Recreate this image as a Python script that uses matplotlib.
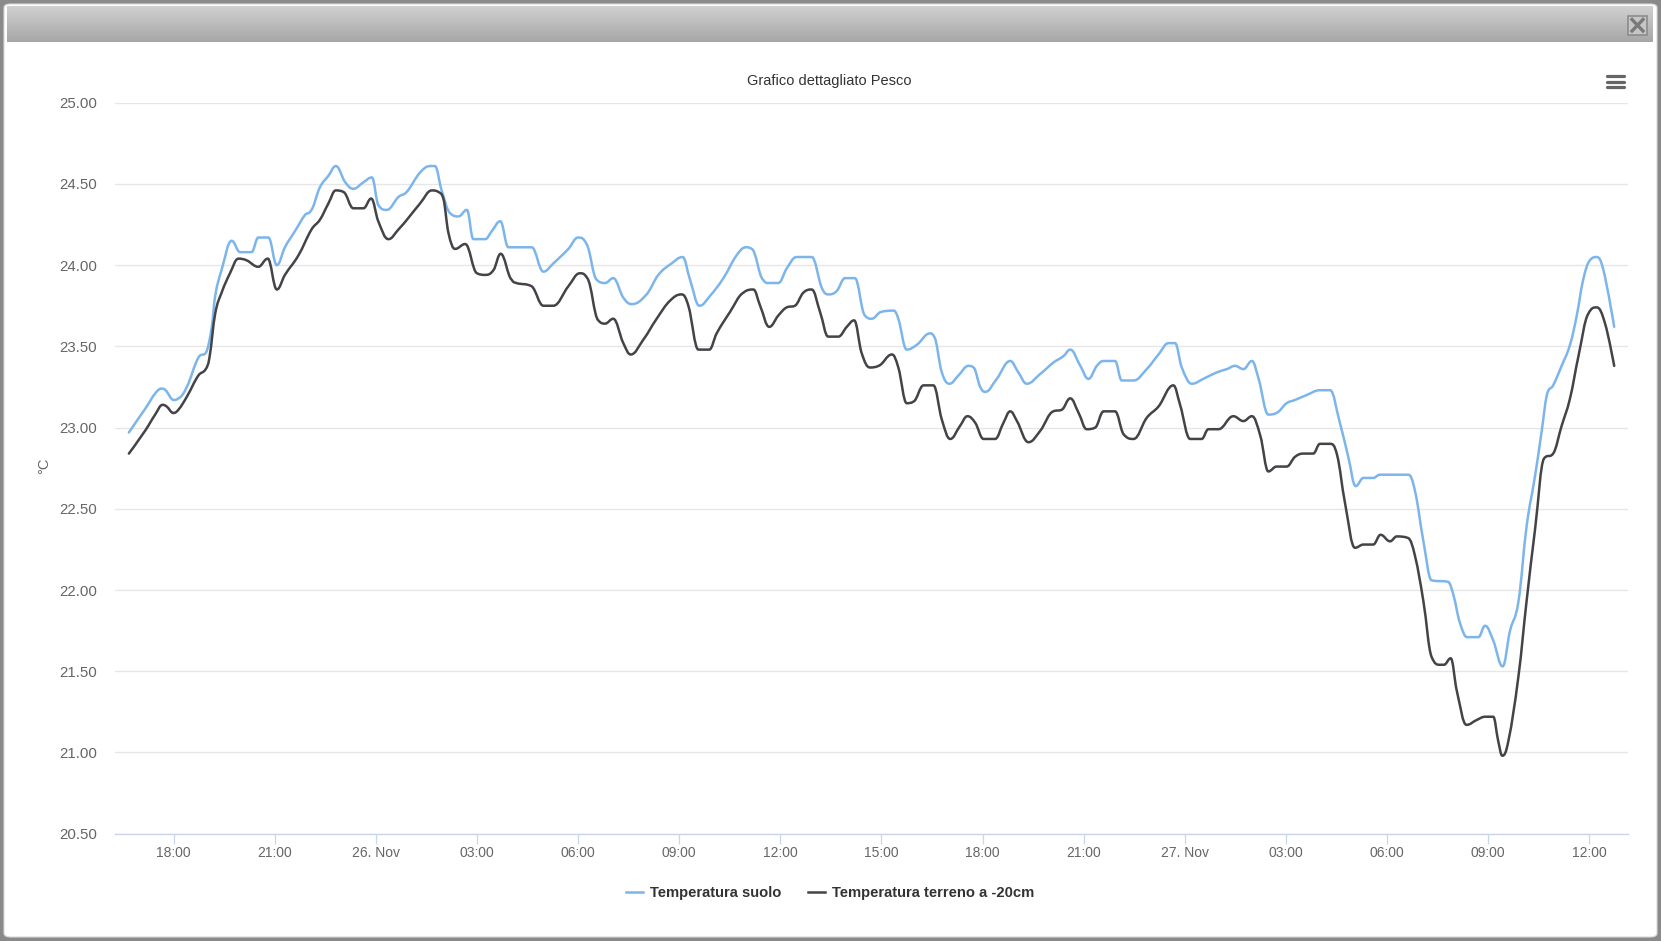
import numpy as np
import matplotlib
matplotlib.use("Agg")
import matplotlib.pyplot as plt
from matplotlib.path import Path
from matplotlib.patches import PathPatch, Rectangle, FancyBboxPatch
from matplotlib.lines import Line2D
from matplotlib.colors import LinearSegmentedColormap

plt.rcParams['font.family'] = ['Liberation Sans', 'DejaVu Sans']

# ---------------- data (hours relative to 26 Nov 00:00) ----------------
suolo_t = [-7.33, -7.0, -6.8, -6.55, -6.36, -6.24, -6.0, -5.86, -5.61, -5.27, -5.02, -4.87, -4.77, -4.58,
           -4.28, -4.03, -3.69, -3.49, -3.19, -2.94, -2.7, -2.4, -2.1, -1.95, -1.66, -1.41, -1.19, -0.91,
           -0.67, -0.37, -0.12, 0.07, 0.32, 0.67, 0.91, 1.31, 1.61, 1.75, 1.95, 2.2, 2.45, 2.7, 2.89, 3.24,
           3.44, 3.69, 3.93, 4.62, 4.97, 5.26, 5.71, 6.0, 6.25, 6.55, 6.8, 7.04, 7.34, 7.59, 8.03, 8.38,
           8.77, 9.1, 9.32, 9.6, 9.91, 10.31, 10.7, 10.98, 11.15, 11.49, 11.64, 11.94, 12.19, 12.48, 12.93,
           13.23, 13.42, 13.67, 13.92, 14.21, 14.51, 14.71, 14.96, 15.36, 15.5, 15.75, 16.05, 16.44, 16.56,
           16.79, 17.02, 17.28, 17.58, 17.73, 17.93, 18.08, 18.42, 18.82, 19.06, 19.31, 19.71, 20.1, 20.4,
           20.6, 20.9, 21.14, 21.39, 21.59, 21.93, 22.13, 22.48, 22.87, 23.22, 23.52, 23.71, 23.91, 24.21,
           24.55, 24.95, 25.25, 25.49, 25.74, 25.99, 26.19, 26.48, 26.72, 27.02, 27.27, 27.61, 28.01, 28.31,
           28.6, 28.85, 29.07, 29.3, 29.59, 29.79, 30.63, 30.83, 31.08, 31.32, 31.82, 31.97, 32.16, 32.38,
           32.71, 32.91, 33.15, 33.43, 33.65, 33.9, 34.14, 34.39, 34.59, 34.74, 34.93, 35.18, 35.43, 35.63,
           35.82, 36.02, 36.22, 36.42, 36.74]
suolo_v = [22.97, 23.07, 23.13, 23.21, 23.24, 23.23, 23.17, 23.18, 23.25, 23.43, 23.47, 23.62, 23.81, 23.97,
           24.15, 24.08, 24.08, 24.17, 24.17, 24.00, 24.11, 24.21, 24.31, 24.33, 24.48, 24.55, 24.61, 24.51,
           24.47, 24.51, 24.54, 24.37, 24.34, 24.42, 24.45, 24.57, 24.61, 24.61, 24.46, 24.32, 24.30, 24.34,
           24.16, 24.16, 24.21, 24.27, 24.11, 24.11, 23.96, 24.01, 24.10, 24.17, 24.13, 23.91, 23.89, 23.92,
           23.80, 23.76, 23.82, 23.94, 24.01, 24.05, 23.91, 23.75, 23.81, 23.92, 24.06, 24.11, 24.10, 23.91,
           23.89, 23.89, 23.98, 24.05, 24.05, 23.86, 23.82, 23.84, 23.92, 23.92, 23.69, 23.67, 23.71, 23.72,
           23.67, 23.48, 23.51, 23.58, 23.56, 23.34, 23.27, 23.32, 23.38, 23.37, 23.25, 23.22, 23.30, 23.41,
           23.34, 23.27, 23.33, 23.40, 23.44, 23.48, 23.38, 23.30, 23.38, 23.41, 23.41, 23.29, 23.29, 23.36,
           23.45, 23.52, 23.52, 23.37, 23.27, 23.30, 23.34, 23.36, 23.38, 23.36, 23.41, 23.30, 23.08, 23.09,
           23.15, 23.17, 23.20, 23.23, 23.23, 23.03, 22.82, 22.64, 22.69, 22.69, 22.71, 22.71, 22.61, 22.30,
           22.06, 22.05, 21.97, 21.80, 21.71, 21.71, 21.78, 21.69, 21.53, 21.75, 21.93, 22.39, 22.70, 22.98,
           23.20, 23.26, 23.38, 23.51, 23.69, 23.91, 24.03, 24.05, 23.97, 23.62]

terreno_t = [-7.33, -6.85, -6.55, -6.33, -6.21, -6.01, -5.86, -5.61, -5.27, -5.05, -4.94, -4.77, -4.58, -4.33,
             -4.08, -3.84, -3.49, -3.21, -2.94, -2.7, -2.3, -1.91, -1.66, -1.41, -1.19, -0.96, -0.67, -0.37,
             -0.14, 0.07, 0.37, 0.67, 0.96, 1.31, 1.66, 1.86, 2.0, 2.15, 2.35, 2.65, 3.0, 3.24, 3.49, 3.7,
             4.03, 4.17, 4.62, 4.97, 5.26, 5.71, 6.05, 6.27, 6.6, 6.8, 7.04, 7.34, 7.56, 7.93, 8.33, 8.72,
             9.07, 9.27, 9.57, 9.89, 10.11, 10.5, 10.9, 11.2, 11.4, 11.67, 11.94, 12.19, 12.43, 12.68, 12.93,
             13.18, 13.42, 13.72, 13.97, 14.19, 14.41, 14.66, 14.91, 15.31, 15.5, 15.75, 15.95, 16.25, 16.54,
             16.79, 17.04, 17.33, 17.55, 17.78, 18.03, 18.37, 18.62, 18.82, 19.02, 19.36, 19.71, 20.1, 20.35,
             20.6, 20.85, 21.09, 21.34, 21.59, 21.93, 22.18, 22.48, 22.87, 23.22, 23.66, 23.86, 24.16, 24.5,
             24.7, 25.0, 25.44, 25.74, 25.99, 26.24, 26.48, 26.72, 27.02, 27.27, 27.52, 27.81, 28.01, 28.31,
             28.52, 28.75, 29.05, 29.3, 29.59, 29.81, 30.09, 30.29, 30.63, 30.83, 31.08, 31.32, 31.57, 31.69,
             31.89, 32.07, 32.36, 32.66, 32.91, 33.15, 33.3, 33.42, 33.6, 33.9, 34.14, 34.39, 34.66, 34.93,
             35.18, 35.43, 35.68, 35.97, 36.22, 36.47, 36.74]
terreno_v = [22.84, 22.98, 23.08, 23.14, 23.13, 23.09, 23.11, 23.19, 23.32, 23.36, 23.43, 23.70, 23.83, 23.95,
             24.04, 24.03, 23.99, 24.04, 23.85, 23.94, 24.06, 24.22, 24.28, 24.38, 24.46, 24.45, 24.35, 24.35,
             24.41, 24.27, 24.16, 24.22, 24.29, 24.38, 24.46, 24.45, 24.41, 24.20, 24.10, 24.13, 23.95, 23.94,
             23.97, 24.07, 23.91, 23.89, 23.87, 23.75, 23.75, 23.87, 23.95, 23.92, 23.66, 23.64, 23.67, 23.52,
             23.45, 23.54, 23.67, 23.78, 23.82, 23.75, 23.48, 23.48, 23.58, 23.71, 23.83, 23.85, 23.75, 23.62,
             23.69, 23.74, 23.75, 23.83, 23.85, 23.71, 23.56, 23.56, 23.62, 23.66, 23.46, 23.37, 23.38, 23.45,
             23.37, 23.15, 23.16, 23.26, 23.26, 23.05, 22.93, 23.01, 23.07, 23.03, 22.93, 22.93, 23.03, 23.10,
             23.04, 22.91, 22.98, 23.10, 23.11, 23.18, 23.09, 22.99, 23.00, 23.10, 23.10, 22.96, 22.93, 23.06,
             23.13, 23.26, 23.14, 22.93, 22.93, 22.99, 22.99, 23.07, 23.04, 23.07, 22.95, 22.73, 22.76, 22.76,
             22.82, 22.84, 22.84, 22.90, 22.90, 22.83, 22.54, 22.26, 22.28, 22.28, 22.34, 22.30, 22.33, 22.32,
             22.21, 21.93, 21.59, 21.54, 21.54, 21.58, 21.38, 21.17, 21.20, 21.22, 21.22, 21.07, 20.98, 21.07,
             21.47, 21.93, 22.37, 22.81, 22.84, 23.01, 23.18, 23.44, 23.70, 23.74, 23.64, 23.38]

series_names = ['Temperatura suolo', 'Temperatura terreno a -20cm']
series_colors = ['#7cb5ec', '#434348']

x_ticks = [-6, -3, 0, 3, 6, 9, 12, 15, 18, 21, 24, 27, 30, 33, 36]
x_labels = ['18:00', '21:00', '26. Nov', '03:00', '06:00', '09:00', '12:00', '15:00',
            '18:00', '21:00', '27. Nov', '03:00', '06:00', '09:00', '12:00']
y_ticks = [20.5, 21.0, 21.5, 22.0, 22.5, 23.0, 23.5, 24.0, 24.5, 25.0]

title = 'Grafico dettagliato Pesco'
y_title = '°C'


def spline_path(xs, ys, smoothing=1.5):
    """Highcharts-style spline as cubic Bezier path (data coordinates)."""
    xs = np.asarray(xs, float)
    ys = np.asarray(ys, float)
    n = len(xs)
    d = smoothing + 1
    lc = [None] * n
    rc = [None] * n
    for i in range(n):
        x, y = xs[i], ys[i]
        if 0 < i < n - 1:
            lx, ly = xs[i - 1], ys[i - 1]
            nx, ny = xs[i + 1], ys[i + 1]
            lcx = (smoothing * x + lx) / d
            lcy = (smoothing * y + ly) / d
            rcx = (smoothing * x + nx) / d
            rcy = (smoothing * y + ny) / d
            if rcx != lcx:
                corr = ((rcy - lcy) * (rcx - x)) / (rcx - lcx) + y - rcy
                lcy += corr
                rcy += corr
            if lcy > ly and lcy > y:
                lcy = max(ly, y); rcy = 2 * y - lcy
            elif lcy < ly and lcy < y:
                lcy = min(ly, y); rcy = 2 * y - lcy
            if rcy > ny and rcy > y:
                rcy = max(ny, y); lcy = 2 * y - rcy
            elif rcy < ny and rcy < y:
                rcy = min(ny, y); lcy = 2 * y - rcy
            lc[i] = (lcx, lcy)
            rc[i] = (rcx, rcy)
        else:
            lc[i] = rc[i] = (x, y)
    verts = [(xs[0], ys[0])]
    codes = [Path.MOVETO]
    for i in range(1, n):
        verts += [rc[i - 1], lc[i], (xs[i], ys[i])]
        codes += [Path.CURVE4] * 3
    return Path(verts, codes)


W, H = 1661, 941
fig = plt.figure(figsize=(W / 100, H / 100), dpi=100)
fig.patch.set_facecolor('#8a8a8a')


def fx(px):
    return px / W


def fy(py):
    return 1 - py / H


# white modal panel (behind everything)
panel = FancyBboxPatch((fx(4), fy(937)), fx(1653), (933) / H,
                       boxstyle='round,pad=0,rounding_size=0.004',
                       transform=fig.transFigure, facecolor='white',
                       edgecolor='#d8d8d8', lw=0.8, zorder=-10)
fig.patches.append(panel)

# header bar with gradient
hax = fig.add_axes([fx(7), fy(42), fx(1646), 36 / H])
hax.set_zorder(1)
grad = np.linspace(0, 1, 64).reshape(-1, 1)
cmap = LinearSegmentedColormap.from_list('hdr', ['#a7a7a7', '#d0d0d0'])
hax.imshow(grad, aspect='auto', cmap=cmap, origin='lower', extent=[0, 1, 0, 1])
hax.set_axis_off()

# close button
fig.patches.append(Rectangle((fx(1628), fy(35)), fx(19), 19 / H, transform=fig.transFigure,
                             facecolor='#c6c6c6', edgecolor='#8c8c8c', lw=1.2, zorder=5))
fig.lines.append(Line2D([fx(1632), fx(1643)], [fy(19.5), fy(31)], transform=fig.transFigure,
                        color='#7a7a7a', lw=2.4, zorder=6))
fig.lines.append(Line2D([fx(1632), fx(1643)], [fy(31), fy(19.5)], transform=fig.transFigure,
                        color='#7a7a7a', lw=2.4, zorder=6))

# hamburger menu
for yy in (76, 81.5, 87):
    fig.lines.append(Line2D([fx(1607), fx(1624)], [fy(yy), fy(yy)], transform=fig.transFigure,
                            color='#666666', lw=2.3, solid_capstyle='round', zorder=6))

# title
fig.text(fx(829), fy(81.5), title, ha='center', va='center', fontsize=10.5, color='#333333')

# plot area
ax = fig.add_axes([fx(115.5), fy(833.7), fx(1628 - 115.5), (833.7 - 102.7) / H])
ax.set_zorder(2)
ax.set_facecolor('none')
for t, v, c in [(suolo_t, suolo_v, series_colors[0]), (terreno_t, terreno_v, series_colors[1])]:
    ax.add_patch(PathPatch(spline_path(t, v), facecolor='none', edgecolor=c, lw=1.8,
                           capstyle='round', joinstyle='round', zorder=3))

ax.set_xlim(-7.727, 37.15)
ax.set_ylim(20.5, 25.0)
ax.set_yticks(y_ticks)
ax.set_yticklabels(['%.2f' % v for v in y_ticks])
ax.set_xticks(x_ticks)
ax.set_xticklabels(x_labels)
ax.grid(axis='y', color='#e6e6e6', lw=1.0)
ax.set_axisbelow(True)
for s in ('top', 'right', 'left'):
    ax.spines[s].set_visible(False)
ax.spines['bottom'].set_color('#ccd6eb')
ax.spines['bottom'].set_linewidth(1.0)
ax.tick_params(axis='x', direction='out', length=7, width=0.9, color='#ccd6eb',
               labelcolor='#666666', labelsize=10, pad=2)
ax.tick_params(axis='y', length=0, labelcolor='#666666', labelsize=10.8, pad=13.5)

fig.text(fx(44), fy(466), y_title, rotation=90, ha='center', va='center',
         fontsize=10.5, color='#666666')

handles = [Line2D([], [], color=c, lw=1.8) for c in series_colors]
leg = fig.legend(handles, series_names, loc='center', bbox_to_anchor=(fx(830), fy(893)),
                 ncol=2, frameon=False, handlelength=1.15, handletextpad=0.5,
                 columnspacing=1.8, prop={'weight': 'bold', 'size': 10.6})
for txt in leg.get_texts():
    txt.set_color('#333333')

fig.savefig('out.png', dpi=100, facecolor=fig.get_facecolor())
